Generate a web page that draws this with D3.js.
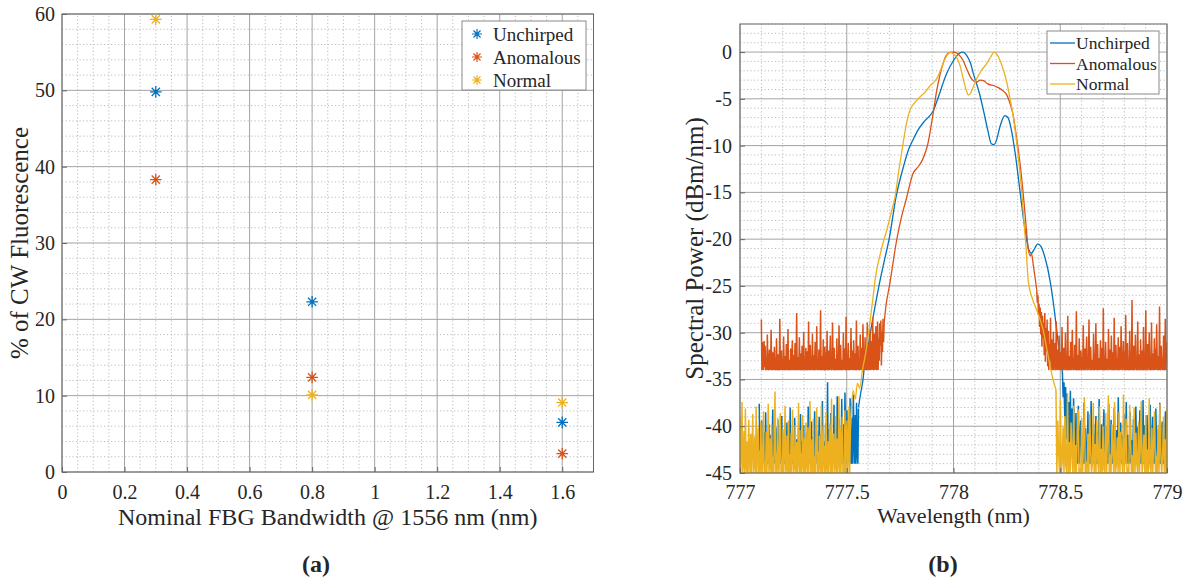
<!DOCTYPE html>
<html>
<head>
<meta charset="utf-8">
<script src="https://cdn.jsdelivr.net/npm/d3@7"></script>
<style>
  body { margin: 0; background: #fff; }
  svg { display: block; }
  text { font-family: "Liberation Serif", "Times New Roman", serif; fill: #262626; }
</style>
</head>
<body>
<svg id="chart" width="1185" height="582"></svg>
<script>
// ---------- (a) fluorescence vs FBG bandwidth ----------
const bandwidth = [0.3, 0.8, 1.6];
const unchirpedPct = [49.8, 22.3, 6.5];
const anomalousPct = [38.3, 12.4, 2.4];
const normalPct = [59.3, 10.1, 9.1];
const seriesNames = ["Unchirped", "Anomalous", "Normal"];
const seriesColors = ["#0072BD", "#D95319", "#EDB120"];
const leftXTicks = [0, 0.2, 0.4, 0.6, 0.8, 1, 1.2, 1.4, 1.6];
const leftYTicks = [0, 10, 20, 30, 40, 50, 60];

// ---------- (b) spectra: noise floors on an even wavelength grid, plus traced pulse shapes ----------
const unchirpedNoiseLeft = { from: 777.09, to: 777.555, dB: [
  -37.6,-44,-41.2,-43.5,-39.4,-44,-42.1,-40.6,-44,-43.2,-38.5,-44,-41.7,-44,-42.8,-39.8,-44,-43.6,-40.9,-44,
  -42.4,-38.2,-44,-41.5,-43.9,-44,-40.1,-42.7,-44,-39.3,-44,-43.1,-41.0,-44,-42.5,-38.9,-44,-41.8,-43.4,-44,
  -40.4,-44,-42.9,-39.6,-44,-43.7,-41.3,-44,-38.0,-44,-42.2,-40.8,-44,-43.3,-44,-39.1,-42.6,-44,-41.4,-44,
  -43.8,-40.2,-44,-42.0,-38.7,-44,-41.6,-44,-43.0,-39.9,-44,-42.4,-44,-40.7,-43.5,-44,-37.9,-44,-41.9,-42.8,
  -44,-39.5,-44,-43.2,-41.1,-44,-38.4,-44,-42.3,-40.5,-44,-43.7,-44,-39.0,-42.1,-44,-40.9,-44,-37.3,-44,
  -41.6,-43.1,-44,-39.7,-44,-42.5,-35.3,-44,-40.3,-43.6,-44,-38.6,-44,-41.2,-42.9,-44,-37.7,-44,-40.0,-43.0,
  -44,-36.8,-44,-41.5,-39.2,-44,-42.6,-44,-37.1,-43.4,-44,-39.8,-44,-36.4,-41.9,-44,-38.3,-44,-42.0,-40.4,
  -44,-37.0,-43.8,-44,-39.1,-44,-36.6,-41.3,-44,-38.8,-44,-37.5,-42.7,-44,-38.1] };
const unchirpedPulse = [[777.555,-38],[777.565,-36.5],[777.575,-35.2],[777.585,-33.1],[777.6,-31.5],[777.615,-29.4],[777.63,-27.5],[777.656,-24.4],[777.68,-21.9],[777.7,-19.8],[777.73,-15.6],[777.765,-12.3],[777.79,-10.4],[777.81,-9.4],[777.835,-8.3],[777.86,-7.5],[777.885,-6.9],[777.905,-6.3],[777.92,-5.4],[777.937,-4.3],[777.95,-3.4],[777.968,-2.3],[778,-0.9],[778.03,-0.1],[778.045,0],[778.06,-0.3],[778.08,-1.2],[778.093,-2.3],[778.12,-4.3],[778.14,-6.2],[778.16,-8.3],[778.177,-9.8],[778.19,-9.9],[778.2,-9.5],[778.22,-7.8],[778.24,-6.8],[778.255,-7.0],[778.27,-8.2],[778.29,-11.0],[778.31,-14.6],[778.33,-18.2],[778.35,-20.9],[778.365,-21.5],[778.38,-21.0],[778.395,-20.5],[778.41,-20.8],[778.43,-22.1],[778.452,-24.4],[778.47,-27.2],[778.49,-31.0],[778.51,-34.2]];
const unchirpedNoiseRight = { from: 778.51, to: 779.0, dB: [
  -34.2,-36.9,-35.3,-39.1,-35.8,-41.4,-36.5,-43.2,-37.4,-44,-36.2,-42.6,-38.1,-44,-37.0,-40.8,-44,-38.6,-43.5,-44,
  -37.8,-44,-41.1,-39.4,-44,-42.7,-44,-37.5,-44,-40.2,-43.3,-44,-38.4,-44,-41.6,-44,-37.3,-43.0,-44,-39.7,
  -44,-42.1,-38.9,-44,-40.6,-44,-37.1,-43.6,-44,-39.8,-44,-41.3,-38.2,-44,-42.9,-44,-40.0,-44,-37.6,-43.2,
  -44,-39.3,-44,-41.8,-44,-38.0,-42.4,-44,-40.4,-44,-36.9,-44,-43.4,-39.6,-44,-41.0,-44,-38.7,-44,-42.2,
  -37.4,-44,-40.9,-44,-43.8,-38.5,-44,-41.5,-44,-39.2,-42.8,-44,-37.9,-44,-40.1,-44,-43.1,-38.3,-44,-41.7,
  -44,-37.2,-44,-39.9,-42.5,-44,-38.8,-44,-40.7,-44,-37.7,-43.7,-44,-39.0,-44,-41.2,-44,-38.1,-42.0,-44,
  -40.3,-44,-37.5,-44,-43.0,-39.5,-44,-41.4,-44,-38.4,-44,-40.5] };

const anomalousNoiseLeft = { from: 777.1, to: 777.675, dB: [
  -28.6,-34,-31.0,-33.4,-34,-30.9,-33.7,-31.4,-34,-32.6,-34,-30.2,-33.1,-34,-32.9,-31.8,-34,-33.5,-29.7,-34,
  -33.2,-32.1,-34,-33.8,-31.5,-34,-32.7,-34,-30.6,-33.9,-34,-32.3,-33.6,-34,-28.5,-34,-33.1,-31.9,-34,-32.8,
  -34,-30.4,-33.7,-34,-32.5,-34,-31.2,-33.4,-34,-29.6,-34,-32.9,-33.5,-34,-31.7,-34,-33.0,-30.8,-34,-33.6,
  -32.4,-34,-31.1,-34,-33.3,-27.9,-34,-32.6,-34,-33.8,-30.5,-34,-32.2,-33.9,-34,-31.4,-34,-32.8,-29.9,-34,
  -33.4,-34,-31.6,-34,-33.1,-32.0,-34,-28.8,-34,-33.5,-31.3,-34,-32.7,-34,-30.1,-33.6,-34,-32.4,-34,-31.0,
  -34,-33.2,-29.3,-34,-32.9,-34,-31.8,-33.7,-34,-27.6,-34,-32.5,-33.3,-34,-30.7,-34,-33.9,-31.5,-34,-32.1,
  -34,-29.8,-33.5,-34,-31.9,-34,-32.6,-30.3,-34,-33.4,-34,-28.9,-33.0,-34,-31.6,-34,-32.8,-33.6,-34,-30.6,
  -34,-32.3,-34,-29.2,-33.8,-34,-31.3,-34,-32.9,-33.2,-34,-30.0,-34,-31.7,-33.5,-34,-28.3,-34,-32.4,-34,
  -31.1,-33.7,-34,-32.7,-34,-29.5,-33.1,-34,-31.9,-34,-30.8,-33.6,-34,-32.2,-34,-28.7,-34,-33.3,-31.4,-34,
  -32.9,-34,-30.2,-33.8,-34,-31.6,-34,-29.1,-32.7,-34,-33.4,-30.5,-34,-32.0,-34,-28.9,-33.5,-34,-31.2,-34,
  -29.6,-34,-32.6,-30.9,-34,-28.4,-33.2,-34,-30.1,-34,-31.5,-29.3,-34,-32.8,-28.8,-34,-30.6,-33.0,-29.0,-31.4,
  -28.7,-33.5,-29.9,-32.1,-28.5,-31.0,-29.0] };
const anomalousPulse = [[777.675,-29.0],[777.685,-26.9],[777.7,-25.0],[777.715,-22.8],[777.73,-20.6],[777.745,-18.8],[777.76,-17.3],[777.78,-15.6],[777.795,-14.2],[777.81,-13.0],[777.825,-12.5],[777.84,-12.1],[777.855,-11.5],[777.87,-10.6],[777.88,-9.8],[777.89,-8.6],[777.905,-6.5],[777.92,-4.3],[777.935,-2.6],[777.95,-1.3],[777.965,-0.4],[777.98,-0.05],[778,0],[778.015,-0.1],[778.03,-0.4],[778.045,-0.9],[778.06,-1.7],[778.08,-2.7],[778.095,-3.1],[778.11,-3.2],[778.125,-3.0],[778.14,-3.05],[778.16,-3.4],[778.19,-3.6],[778.21,-3.8],[778.23,-4.1],[778.25,-4.6],[778.265,-5.5],[778.28,-6.8],[778.29,-8.3],[778.3,-9.9],[778.315,-12.6],[778.33,-16.0],[778.34,-18.6],[778.35,-21.0],[778.36,-21.8],[778.365,-21.5],[778.375,-23.0],[778.385,-24.6],[778.39,-25.5]];
const anomalousNoiseRight = { from: 778.39, to: 779.0, dB: [
  -25.5,-26.8,-26.0,-28.1,-26.9,-29.4,-27.3,-30.2,-27.8,-31.5,-28.2,-30.6,-28.9,-32.4,-27.9,-33.1,-29.5,-32.0,-28.6,-33.6,
  -29.8,-34,-31.2,-33.0,-28.4,-34,-30.7,-33.5,-34,-29.9,-34,-32.6,-31.1,-34,-28.8,-33.7,-34,-31.8,-34,-30.3,
  -33.4,-34,-32.1,-34,-29.4,-33.8,-34,-31.6,-34,-32.9,-30.0,-34,-33.3,-34,-28.2,-34,-32.5,-33.7,-34,-31.0,
  -34,-33.2,-29.7,-34,-32.8,-34,-31.3,-33.6,-34,-27.7,-34,-32.4,-33.9,-34,-30.6,-34,-33.0,-31.9,-34,-32.6,
  -34,-29.2,-33.5,-34,-31.7,-34,-32.3,-30.4,-34,-33.8,-34,-28.6,-33.1,-34,-31.5,-34,-32.9,-33.4,-34,-30.1,
  -34,-32.2,-34,-29.0,-33.7,-34,-31.2,-34,-32.7,-33.3,-34,-30.8,-34,-31.6,-33.6,-34,-27.4,-34,-32.5,-34,
  -31.0,-33.8,-34,-32.8,-34,-29.6,-33.2,-34,-31.8,-34,-30.3,-33.5,-34,-32.1,-34,-28.4,-34,-33.4,-31.3,-34,
  -32.7,-34,-30.5,-33.9,-34,-31.5,-34,-29.3,-32.6,-34,-33.3,-30.9,-34,-32.0,-34,-28.1,-33.6,-34,-31.1,-34,
  -33.0,-34,-29.8,-34,-32.4,-34,-26.5,-33.7,-34,-31.4,-34,-32.9,-30.2,-34,-33.5,-34,-28.8,-34,-32.3,-33.1,
  -34,-30.7,-34,-31.9,-33.4,-34,-29.4,-34,-32.6,-34,-27.6,-33.2,-34,-31.2,-34,-32.8,-30.0,-34,-33.6,-34,
  -28.9,-34,-32.2,-33.5,-34,-30.6,-34,-31.7,-34,-29.1,-33.3,-34,-32.5,-34,-27.2,-34,-33.0,-31.4,-34,-32.7,
  -34,-30.3,-33.8,-34,-28.5,-34,-32.1,-31.0] };

const normalNoiseLeft = { from: 777.0, to: 777.52, dB: [
  -39.0,-45,-42.7,-37.4,-45,-43.9,-40.5,-45,-38.1,-44.2,-45,-41.6,-45,-39.3,-43.4,-45,-40.8,-45,-42.2,-38.7,
  -45,-44.0,-41.1,-45,-37.9,-45,-43.1,-40.2,-45,-42.6,-45,-39.5,-44.4,-45,-41.8,-38.4,-45,-43.7,-45,-40.6,
  -45,-42.0,-37.6,-45,-44.1,-41.3,-45,-39.8,-45,-43.3,-45,-40.9,-36.3,-45,-42.8,-45,-39.1,-44.3,-45,-41.5,
  -38.6,-45,-43.6,-45,-40.3,-45,-42.4,-37.8,-45,-44.5,-41.0,-45,-39.4,-45,-43.0,-45,-40.7,-45,-38.2,-42.5,
  -45,-44.2,-39.9,-45,-41.7,-45,-43.5,-37.5,-45,-40.4,-45,-42.9,-45,-38.8,-44.0,-45,-41.2,-45,-39.6,-43.8,
  -45,-40.1,-45,-42.3,-37.3,-45,-44.6,-41.4,-45,-39.2,-45,-43.2,-45,-40.6,-38.0,-45,-42.7,-45,-41.0,-44.1,
  -45,-37.7,-45,-43.4,-40.0,-45,-42.1,-45,-38.5,-44.4,-45,-41.6,-45,-39.7,-43.0,-45,-37.1,-45,-42.5,-40.8,
  -45,-44.3,-38.9,-45,-41.3,-45,-43.7,-36.8,-45,-40.2,-45,-42.2,-39.0,-45,-44.0,-45,-38.3,-45,-41.9,-39.4,
  -45,-43.3,-37.9,-45,-40.5,-38.6] };
const normalPulse = [[777.52,-38.6],[777.53,-36.2],[777.54,-37.1],[777.55,-35.4],[777.56,-35.9],[777.575,-33.8],[777.59,-32.0],[777.605,-29.5],[777.62,-26.8],[777.635,-24.0],[777.66,-21.3],[777.69,-18.8],[777.71,-17.0],[777.726,-15.5],[777.745,-12.5],[777.765,-9.6],[777.78,-7.6],[777.796,-6.2],[777.815,-5.5],[777.843,-4.8],[777.87,-4.2],[777.89,-3.6],[777.905,-3.3],[777.92,-2.9],[777.94,-1.9],[777.955,-1.0],[777.968,-0.4],[777.985,0],[778,-0.2],[778.015,-0.6],[778.03,-1.4],[778.045,-2.8],[778.06,-4.1],[778.07,-4.6],[778.08,-4.4],[778.093,-3.7],[778.11,-2.8],[778.13,-2.0],[778.156,-1.2],[778.175,-0.5],[778.19,0],[778.205,-0.3],[778.22,-1.0],[778.235,-2.0],[778.25,-3.3],[778.26,-4.4],[778.28,-6.9],[778.3,-10.5],[778.32,-15.0],[778.34,-21.0],[778.35,-24.4],[778.37,-26.4],[778.39,-27.6],[778.41,-28.9],[778.42,-29.7],[778.435,-31.5],[778.45,-33.3],[778.465,-34.9],[778.48,-36.1]];
const normalNoiseRight = { from: 778.48, to: 779.0, dB: [
  -36.1,-45,-39.4,-42.8,-45,-37.2,-45,-43.6,-40.1,-45,-38.9,-44.2,-45,-36.5,-45,-41.7,-45,-39.6,-43.1,-45,
  -37.8,-45,-42.0,-45,-40.4,-38.2,-45,-44.5,-45,-39.1,-45,-41.3,-36.9,-45,-43.8,-45,-40.8,-45,-38.7,-42.6,
  -45,-44.0,-37.5,-45,-41.9,-45,-39.3,-43.5,-45,-37.9,-45,-42.4,-45,-40.0,-44.6,-45,-38.6,-45,-41.2,-36.7,
  -45,-43.0,-45,-39.8,-42.7,-45,-37.4,-45,-44.1,-41.2,-45,-38.5,-45,-40.6,-43.4,-45,-36.6,-45,-42.3,-39.2,
  -45,-44.4,-45,-37.7,-41.7,-45,-43.1,-45,-38.0,-45,-40.7,-44.0,-45,-39.5,-45,-42.1,-37.3,-45,-43.8,-40.9,
  -45,-38.8,-45,-42.5,-45,-37.0,-44.3,-45,-40.2,-45,-41.6,-38.4,-45,-43.2,-45,-39.9,-45,-37.6,-42.9,-45,
  -43.3,-39.0,-45,-41.4,-45,-38.2] };

const rightXTicks = [777, 777.5, 778, 778.5, 779];
const rightYTicks = [-45, -40, -35, -30, -25, -20, -15, -10, -5, 0];

// ---------- drawing ----------
const svg = d3.select("#chart");
const GRID_MAJOR = "#a3a3a3", GRID_MINOR = "#bcbcbc", BOX = "#666";

function drawGrid(g, x, y, xMinor, yMinor, xMajor, yMajor) {
  const [x0, x1] = x.range(), [y0, y1] = y.range();
  g.append("g").selectAll("line").data(xMinor).join("line")
    .attr("x1", d => x(d)).attr("x2", d => x(d)).attr("y1", y0).attr("y2", y1)
    .attr("stroke", GRID_MINOR).attr("stroke-width", 1).attr("stroke-dasharray", "1.2,2.3");
  g.append("g").selectAll("line").data(yMinor).join("line")
    .attr("y1", d => y(d)).attr("y2", d => y(d)).attr("x1", x0).attr("x2", x1)
    .attr("stroke", GRID_MINOR).attr("stroke-width", 1).attr("stroke-dasharray", "1.2,2.3");
  g.append("g").selectAll("line").data(xMajor).join("line")
    .attr("x1", d => x(d)).attr("x2", d => x(d)).attr("y1", y0).attr("y2", y1)
    .attr("stroke", GRID_MAJOR).attr("stroke-width", 1);
  g.append("g").selectAll("line").data(yMajor).join("line")
    .attr("y1", d => y(d)).attr("y2", d => y(d)).attr("x1", x0).attr("x2", x1)
    .attr("stroke", GRID_MAJOR).attr("stroke-width", 1);
}

function drawBox(g, x, y) {
  const [x0, x1] = x.range(), [y0, y1] = y.range();
  g.append("rect").attr("x", x0).attr("y", y1).attr("width", x1 - x0).attr("height", y0 - y1)
    .attr("fill", "none").attr("stroke", BOX).attr("stroke-width", 1);
}

function styleAxis(sel, size) {
  sel.select(".domain").remove();
  sel.selectAll(".tick line").attr("stroke", BOX);
  sel.selectAll(".tick text").attr("font-family", "Liberation Serif, serif")
    .attr("font-size", size).attr("fill", "#262626");
}

// eight-armed asterisk marker
function asterisk(r) {
  const a = r * 0.7071;
  return `M0,${-r}V${r}M${-r},0H${r}M${-a},${-a}L${a},${a}M${-a},${a}L${a},${-a}`;
}

// ===== panel (a) =====
const xL = d3.scaleLinear([0, 1.7], [62, 593.5]);
const yL = d3.scaleLinear([0, 60], [472, 14]);
const gA = svg.append("g");
drawGrid(gA, xL, yL,
  d3.range(0, 35).filter(i => i % 4).map(i => i * 0.05),
  d3.range(0, 31).filter(i => i % 5).map(i => i * 2),
  leftXTicks, leftYTicks);

gA.append("g").attr("transform", `translate(0,${yL(0)})`)
  .call(d3.axisBottom(xL).tickValues(leftXTicks).tickFormat(d3.format("~g")).tickSizeInner(-5).tickSizeOuter(0).tickPadding(13))
  .call(s => styleAxis(s, 20));
gA.append("g").attr("transform", `translate(${xL(0)},0)`)
  .call(d3.axisLeft(yL).tickValues(leftYTicks).tickFormat(d3.format("d")).tickSizeInner(-5).tickSizeOuter(0).tickPadding(7))
  .call(s => styleAxis(s, 20));
drawBox(gA, xL, yL);

const pctSeries = [unchirpedPct, anomalousPct, normalPct];
pctSeries.forEach((vals, k) => {
  gA.append("g").selectAll("path").data(vals).join("path")
    .attr("transform", (d, i) => `translate(${xL(bandwidth[i])},${yL(d)})`)
    .attr("d", asterisk(5.8)).attr("fill", "none")
    .attr("stroke", seriesColors[k]).attr("stroke-width", 1.3);
});

// legend (a)
const legA = gA.append("g");
legA.append("rect").attr("x", 462).attr("y", 21).attr("width", 124).attr("height", 69)
  .attr("fill", "#fff").attr("stroke", "#8a8a8a").attr("stroke-width", 1);
seriesNames.forEach((name, k) => {
  const cy = 34 + k * 23;
  legA.append("path").attr("transform", `translate(477,${cy})`).attr("d", asterisk(5))
    .attr("fill", "none").attr("stroke", seriesColors[k]).attr("stroke-width", 1.2);
  legA.append("text").attr("x", 493).attr("y", cy).attr("dy", "0.35em")
    .attr("font-size", 19).text(name);
});

gA.append("text").attr("transform", `translate(28,${(yL(0) + yL(60)) / 2}) rotate(-90)`)
  .attr("text-anchor", "middle").attr("font-size", 25).text("% of CW Fluorescence");
gA.append("text").attr("x", (xL(0) + xL(1.7)) / 2).attr("y", 525)
  .attr("text-anchor", "middle").attr("font-size", 24).text("Nominal FBG Bandwidth @ 1556 nm (nm)");
gA.append("text").attr("x", 316).attr("y", 572).attr("text-anchor", "middle")
  .attr("font-size", 24).attr("font-weight", "bold").text("(a)");

// ===== panel (b) =====
const xR = d3.scaleLinear([777, 779], [740, 1167]);
const yR = d3.scaleLinear([-45, 3], [473, 24]);
const gB = svg.append("g");
drawGrid(gB, xR, yR,
  d3.range(0, 21).filter(i => i % 5).map(i => 777 + i * 0.1),
  d3.range(-45, 4).filter(v => v % 5 !== 0),
  rightXTicks, rightYTicks);

svg.append("clipPath").attr("id", "plotB").append("rect")
  .attr("x", 740).attr("y", 24).attr("width", 427).attr("height", 449);

const toPoints = n => n.dB.map((v, i) => [n.from + (n.to - n.from) * i / (n.dB.length - 1), v]);
const noiseLine = d3.line().x(d => xR(d[0])).y(d => yR(d[1]));
const pulseLine = d3.line().x(d => xR(d[0])).y(d => yR(d[1])).curve(d3.curveMonotoneX);

const spectra = [
  [unchirpedNoiseLeft, unchirpedPulse, unchirpedNoiseRight],
  [anomalousNoiseLeft, anomalousPulse, anomalousNoiseRight],
  [normalNoiseLeft, normalPulse, normalNoiseRight]
];
const traces = gB.append("g").attr("clip-path", "url(#plotB)");
spectra.forEach(([nl, pulse, nr], k) => {
  const s = traces.append("g").attr("fill", "none").attr("stroke", seriesColors[k]).attr("stroke-linejoin", "bevel");
  s.append("path").attr("d", noiseLine(toPoints(nl))).attr("stroke-width", 1.5);
  s.append("path").attr("d", pulseLine(pulse)).attr("stroke-width", 1.3);
  s.append("path").attr("d", noiseLine(toPoints(nr))).attr("stroke-width", 1.5);
});

gB.append("g").attr("transform", `translate(0,${yR(-45)})`)
  .call(d3.axisBottom(xR).tickValues(rightXTicks).tickFormat(d3.format("~g")).tickSizeInner(-5).tickSizeOuter(0).tickPadding(12))
  .call(s => styleAxis(s, 20));
gB.append("g").attr("transform", `translate(${xR(777)},0)`)
  .call(d3.axisLeft(yR).tickValues(rightYTicks).tickFormat(d => String(d).replace("\u2212", "-")).tickSizeInner(-5).tickSizeOuter(0).tickPadding(8))
  .call(s => styleAxis(s, 20));
drawBox(gB, xR, yR);

// legend (b)
const legB = gB.append("g");
legB.append("rect").attr("x", 1047).attr("y", 31).attr("width", 112).attr("height", 63)
  .attr("fill", "#fff").attr("stroke", "#8a8a8a").attr("stroke-width", 1);
seriesNames.forEach((name, k) => {
  const cy = 43 + k * 20.5;
  legB.append("line").attr("x1", 1050).attr("x2", 1075).attr("y1", cy).attr("y2", cy)
    .attr("stroke", seriesColors[k]).attr("stroke-width", 1.3);
  legB.append("text").attr("x", 1076).attr("y", cy).attr("dy", "0.35em")
    .attr("font-size", 17.5).text(name);
});

gB.append("text").attr("transform", `translate(703,${(yR(-45) + yR(3)) / 2}) rotate(-90)`)
  .attr("text-anchor", "middle").attr("font-size", 25).text("Spectral Power (dBm/nm)");
gB.append("text").attr("x", (xR(777) + xR(779)) / 2).attr("y", 523)
  .attr("text-anchor", "middle").attr("font-size", 22).text("Wavelength (nm)");
gB.append("text").attr("x", 943).attr("y", 572).attr("text-anchor", "middle")
  .attr("font-size", 24).attr("font-weight", "bold").text("(b)");
</script>
</body>
</html>
